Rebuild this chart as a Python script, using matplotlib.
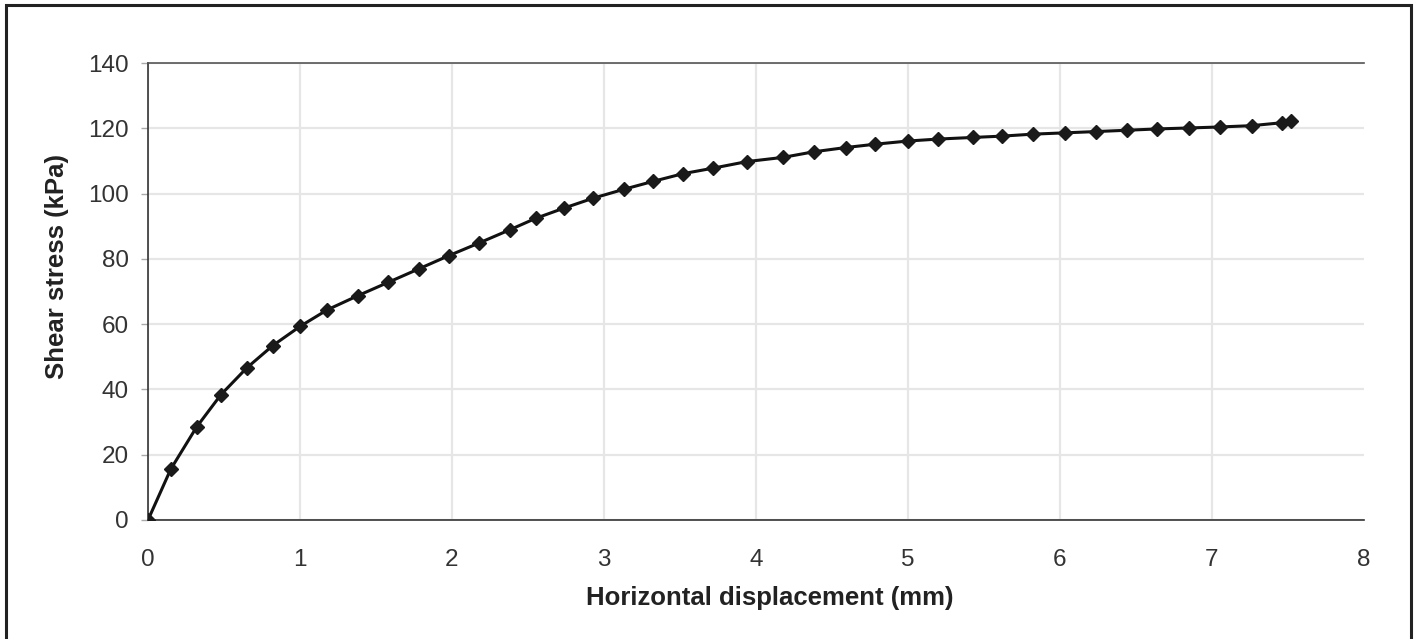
import matplotlib.pyplot as plt
from matplotlib.patches import Rectangle

# shear box test: displacement (mm) vs shear stress (kPa)
disp = [0.0, 0.15, 0.32, 0.48, 0.65, 0.82, 1.0, 1.18, 1.38, 1.58, 1.78, 1.98,
        2.18, 2.38, 2.55, 2.74, 2.93, 3.13, 3.32, 3.52, 3.72, 3.94, 4.18, 4.38,
        4.59, 4.78, 5.0, 5.2, 5.43, 5.62, 5.82, 6.03, 6.24, 6.44, 6.64, 6.85,
        7.05, 7.26, 7.46, 7.52]
stress = [0.0, 15.6, 28.5, 38.4, 46.6, 53.4, 59.3, 64.4, 68.7, 72.8, 76.9, 81.0,
          84.9, 88.9, 92.4, 95.6, 98.6, 101.3, 103.7, 106.1, 107.8, 109.8, 111.1, 112.8,
          114.1, 115.1, 116.1, 116.7, 117.2, 117.6, 118.2, 118.6, 119.0, 119.4, 119.8, 120.1,
          120.4, 120.8, 121.7, 122.1]

xticks = list(range(0, 9))
yticks = list(range(0, 141, 20))

fig = plt.figure(figsize=(14.17, 6.39), dpi=100)
ax = fig.add_axes([148 / 1417, 1 - 520 / 639, (1364 - 148) / 1417, (520 - 63) / 639])

ax.plot(disp, stress, color='#111111', lw=2.2, marker='D', ms=7.5, mfc='#1a1a1a', mec='#1a1a1a', zorder=3)

ax.set_xlim(0, 8)
ax.set_ylim(0, 140)
ax.set_xticks(xticks)
ax.set_yticks(yticks)
ax.grid(True, color='#e6e6e6', lw=1.6)
ax.set_axisbelow(True)
ax.get_xgridlines()[-1].set_visible(False)

for s in ['left', 'bottom']:
    ax.spines[s].set_color('#333333')
    ax.spines[s].set_linewidth(1.2)
ax.spines['top'].set_color('#555555')
ax.spines['top'].set_linewidth(1.2)
ax.spines['right'].set_visible(False)

ax.tick_params(axis='x', length=0, pad=21, labelsize=17.5, labelcolor='#333333')
ax.tick_params(axis='y', length=5, width=1, color='#aaaaaa', pad=9, labelsize=17.5, labelcolor='#333333')
for lab in ax.get_xticklabels() + ax.get_yticklabels():
    lab.set_family('Liberation Sans')

ax.set_xlabel('Horizontal displacement (mm)', family='Liberation Sans', fontsize=18.5,
              fontweight='bold', color='#222222')
ax.set_ylabel('Shear stress (kPa)', family='Liberation Sans', fontsize=18.5,
              fontweight='bold', color='#222222')
ax.xaxis.label.set_va('center')
ax.yaxis.label.set_va('center')
ax.xaxis.set_label_coords(0.511, -0.171)
ax.yaxis.set_label_coords(-0.0748, 0.554)

# outer frame of the scanned figure
fig.patches.append(Rectangle((6 / 1417, -0.02), 1405 / 1417, 1.02 - 5 / 639, transform=fig.transFigure,
                             fill=False, ec='#222222', lw=2.2))

fig.savefig('out.png', dpi=100)
